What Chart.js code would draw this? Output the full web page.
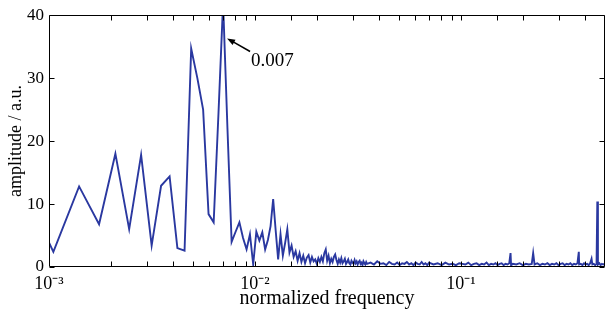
<!DOCTYPE html>
<html>
<head>
<meta charset="utf-8">
<script src="https://cdn.jsdelivr.net/npm/chart.js@4.4.1/dist/chart.umd.min.js"></script>
<style>
  html, body { margin: 0; padding: 0; background: #fff; }
  #chart-1 { display: block; }
</style>
</head>
<body>
<canvas id="chart-1" width="611" height="311"></canvas>
<script>
// frequency resolution of the spectrum (normalized frequency per bin)
const binWidth = 0.00035;

// low band: one amplitude per bin, starting at bin 2
const lowStartBin = 2;
const lowAmp = [
    14.9, 2.4, 12.8, 6.8, 18.0, 6.0, 17.8, 3.4, 12.9, 14.4,
    3.0, 2.6, 34.7, 30.0, 25.0, 8.4, 7.1, 24.5, 42.0, 22.0,
    4.0, 5.6, 7.1, 4.6, 2.8, 5.2, 0.4, 5.6, 4.2, 5.5,
    2.8, 4.3, 6.5, 10.8, 5.8, 1.2, 5.2, 1.8, 3.8, 6.0,
    2.3, 3.4, 1.6, 2.5, 1.0, 2.2, 0.8, 1.8, 0.6, 1.5,
    1.9, 0.7, 1.6, 0.9, 1.2, 0.5, 1.4, 0.8, 1.6
];

// high band: sampled bins with their amplitudes
const highBins = [
    61, 62, 63, 64, 65, 66, 67, 68, 69, 70, 71, 72, 73, 74, 75, 76, 77, 78, 79, 80,
    81, 82, 83, 84, 85, 86, 87, 88, 89, 90, 91, 92, 93, 94, 95, 96, 97, 98, 99, 100,
    104, 108, 112, 116, 120, 124, 128, 132, 136, 140, 144, 148, 152, 156, 160, 164, 168, 172, 176, 180,
    184, 188, 192, 196, 200,
    210, 220, 230, 240, 250, 260, 270, 280, 290, 300, 310, 320, 330, 340, 350, 360, 370, 380, 390, 400,
    410, 420, 430, 440, 450, 460, 470, 480, 490, 497, 500,
    510, 530, 550, 570, 590, 610, 630, 640, 650, 670, 690, 710, 730, 750, 770, 790, 810, 830, 850, 870,
    890, 910, 930, 950, 970, 990, 1010, 1030, 1050, 1066, 1070, 1090, 1110, 1130, 1150, 1170, 1190, 1210, 1229, 1240,
    1260, 1280, 1300, 1311, 1320, 1340, 1360, 1380, 1400, 1420, 1428
];
const highAmp = [
    0.9, 2.2, 2.8, 1.0, 1.8, 0.6, 1.3, 0.8, 1.6, 2.0, 1.1, 0.5, 1.2, 0.7, 1.4, 0.6, 0.9, 1.3, 0.5, 0.8,
    1.2, 0.6, 0.4, 1.0, 0.7, 0.5, 1.1, 0.6, 0.9, 0.4, 0.8, 1.0, 0.5, 0.7, 0.3, 0.9, 0.6, 0.4, 0.8, 0.5,
    0.7, 0.4, 0.9, 0.5, 0.6, 0.3, 0.8, 0.5, 0.4, 0.7, 0.3, 0.6, 0.5, 0.8, 0.4, 0.6, 0.3, 0.7, 0.5, 0.4,
    0.8, 0.4, 0.6, 0.3, 0.7,
    0.4, 0.6, 0.3, 0.7, 0.4, 0.5, 0.3, 0.6, 0.5, 0.4, 0.7, 0.3, 0.5, 0.6, 0.3, 0.5, 0.4, 0.7, 0.3, 0.5,
    0.4, 0.6, 0.3, 0.5, 0.6, 0.3, 0.5, 0.4, 0.6, 2.2, 0.3,
    0.5, 0.4, 0.6, 0.3, 0.5, 0.4, 0.5, 2.2, 0.4, 0.6, 0.3, 0.5, 0.4, 0.6, 0.3, 0.5, 0.4, 0.6, 0.3, 0.5,
    0.6, 0.3, 0.5, 0.4, 0.6, 0.3, 0.5, 0.4, 0.6, 2.4, 0.4, 0.5, 0.3, 0.6, 0.4, 0.5, 0.3, 0.6, 1.3, 0.4,
    0.5, 0.3, 0.5, 10.4, 0.4, 0.6, 0.3, 0.5, 0.4, 0.5, 0.3
];

const yTicks = [0, 10, 20, 30, 40];
const peakFreq = 0.007;
const peakLabel = '0.007';

const serif = "'Liberation Serif', 'Times New Roman', serif";
const lineColor = '#2a38a0';

let points = [];
lowAmp.forEach((a, i) => points.push({ x: (lowStartBin + i) * binWidth, y: a }));
highBins.forEach((b, i) => points.push({ x: b * binWidth, y: highAmp[i] }));

const sup = { '-': '\u207B', '0': '\u2070', '1': '\u00B9', '2': '\u00B2', '3': '\u00B3',
    '4': '\u2074', '5': '\u2075', '6': '\u2076', '7': '\u2077', '8': '\u2078', '9': '\u2079' };

function powerLabel(value) {
    let e = Math.log10(value);
    if (Math.abs(e - Math.round(e)) > 1e-6) return '';
    return '10' + String(Math.round(e)).split('').map(c => sup[c]).join('');
}

// matlab style box, inward ticks and the arrow annotation
const framePlugin = {
    id: 'frame',
    afterDraw(chart) {
        const { ctx, chartArea: { left, right, top, bottom }, scales: { x, y } } = chart;
        ctx.save();
        ctx.strokeStyle = '#000';
        ctx.lineWidth = 1;
        let l = Math.round(left) + 0.5, r = Math.round(right) - 0.5;
        let t = Math.round(top) + 0.5, b = Math.round(bottom) - 0.5;
        ctx.beginPath();
        ctx.rect(l, t, r - l, b - t);
        x.ticks.forEach(tk => {
            let px = Math.round(x.getPixelForValue(tk.value)) + 0.5;
            if (px <= l + 1 || px >= r - 1) return;
            ctx.moveTo(px, b); ctx.lineTo(px, b - 5);
            ctx.moveTo(px, t); ctx.lineTo(px, t + 5);
        });
        yTicks.forEach(v => {
            let py = Math.round(y.getPixelForValue(v)) + 0.5;
            ctx.moveTo(l, py); ctx.lineTo(l + 5, py);
            ctx.moveTo(r, py); ctx.lineTo(r - 5, py);
        });
        ctx.stroke();

        // arrow pointing at the main peak
        let hx = x.getPixelForValue(peakFreq) + 4;
        let hy = y.getPixelForValue(36.3);
        let tx = hx + 23, ty = hy + 13;
        let ang = Math.atan2(hy - ty, hx - tx);
        ctx.lineWidth = 1.5;
        ctx.beginPath();
        ctx.moveTo(tx, ty);
        ctx.lineTo(hx - 5 * Math.cos(ang), hy - 5 * Math.sin(ang));
        ctx.stroke();
        ctx.fillStyle = '#000';
        ctx.beginPath();
        ctx.moveTo(hx, hy);
        ctx.lineTo(hx - 8 * Math.cos(ang) + 3 * Math.sin(ang), hy - 8 * Math.sin(ang) - 3 * Math.cos(ang));
        ctx.lineTo(hx - 8 * Math.cos(ang) - 3 * Math.sin(ang), hy - 8 * Math.sin(ang) + 3 * Math.cos(ang));
        ctx.closePath();
        ctx.fill();
        ctx.font = '19px ' + serif;
        ctx.textBaseline = 'middle';
        ctx.textAlign = 'left';
        ctx.fillText(peakLabel, tx + 1, ty + 10);
        ctx.restore();
    }
};

let chart_1 = document.getElementById('chart-1');

new Chart(chart_1, {
    type: 'line',
    data: {
        datasets: [{
            data: points,
            borderColor: lineColor,
            borderWidth: 1.9,
            pointRadius: 0,
            tension: 0,
            fill: false
        }]
    },
    options: {
        responsive: false,
        animation: false,
        devicePixelRatio: 1,
        layout: { padding: { top: 15, right: 1, left: 0, bottom: 0 } },
        plugins: { legend: { display: false }, tooltip: { enabled: false } },
        scales: {
            x: {
                type: 'logarithmic',
                min: 0.001,
                max: 0.5,
                afterFit(scale) { scale.height = 44; },
                grid: { drawOnChartArea: false, drawTicks: false },
                border: { display: false },
                ticks: {
                    autoSkip: false,
                    maxRotation: 0,
                    padding: 6,
                    color: '#000',
                    font: { family: serif, size: 18 },
                    callback: value => powerLabel(value)
                },
                title: {
                    display: true,
                    text: 'normalized frequency',
                    color: '#000',
                    font: { family: serif, size: 20 },
                    padding: { top: 0, bottom: 0 }
                }
            },
            y: {
                min: 0,
                max: 40,
                afterFit(scale) { scale.width = 49; },
                grid: { drawOnChartArea: false, drawTicks: false },
                border: { display: false },
                ticks: {
                    stepSize: 10,
                    padding: 5,
                    color: '#000',
                    font: { family: serif, size: 17 }
                },
                title: {
                    display: true,
                    text: 'amplitude / a.u.',
                    color: '#000',
                    font: { family: serif, size: 18 },
                    padding: { top: 5, bottom: 0 }
                }
            }
        }
    },
    plugins: [framePlugin]
});
</script>
</body>
</html>
